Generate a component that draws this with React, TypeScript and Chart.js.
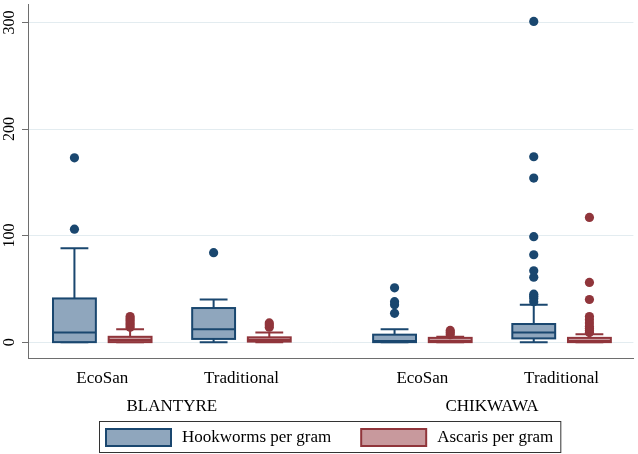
import React, { useEffect, useRef } from 'react';
import { Chart, registerables } from 'chart.js';

Chart.register(...registerables);

// ---------------- data ----------------
const subCategories = ['EcoSan', 'Traditional', 'EcoSan', 'Traditional'];
const regions = ['BLANTYRE', 'CHIKWAWA'];
const seriesNames = ['Hookworms per gram', 'Ascaris per gram'];
const yTickValues = [0, 100, 200, 300];

// [lower whisker, q1, median, q3, upper whisker]
const hookStats = [
  [0, 0, 9, 41, 88],
  [0, 3, 12, 32, 40],
  [0, 0, 1, 7, 12],
  [0, 3.5, 9, 17, 35],
];
const ascarisStats = [
  [0, 0, 2, 5, 12],
  [0, 0.5, 2, 4.5, 9],
  [0, 0, 1, 4, 5],
  [0, 0, 1, 4, 7.5],
];
const hookOutliers = [
  [106, 173],
  [84],
  [27, 35, 38, 51],
  [38, 41, 43, 45, 61, 67, 82, 99, 154, 174, 301],
];
const ascarisOutliers = [
  [14, 16, 18, 20, 22, 24],
  [14, 16, 18],
  [7, 9, 11],
  [9, 11, 13, 15, 18, 21, 24, 40, 56, 117],
];

// ---------------- layout / style ----------------
const hookSlots = [0, 2.5, 5.75, 8.25];
const ascarisSlots = hookSlots.map((s) => s + 1);
const subCenters = hookSlots.map((s) => s + 0.5);
const regionCenters = [(hookSlots[0] + ascarisSlots[1]) / 2, (hookSlots[2] + ascarisSlots[3]) / 2];
const X_MIN = -0.834;
const X_MAX = 10.04;
const Y_MIN = -14.9;
const Y_MAX = 316.8;
const BOX_HALF = 0.385;
const CAP_HALF = 0.25;

const HOOK_STROKE = '#1a476f';
const HOOK_FILL = '#8fa6bd';
const ASC_STROKE = '#90353b';
const ASC_FILL = '#c8999d';
const FONT_FAMILY = '"Liberation Serif", "Times New Roman", Times, serif';

const boxPlugin = {
  id: 'boxes',
  beforeDatasetsDraw(chart: any) {
    const { ctx } = chart;
    const xs = chart.scales.x;
    const ys = chart.scales.y;
    const py = (v: number) => ys.getPixelForValue(v);
    const drawSeries = (stats: number[][], slots: number[], fill: string, stroke: string) => {
      stats.forEach((s, i) => {
        const [mn, q1, md, q3, mx] = s;
        const c = slots[i];
        const xc = xs.getPixelForValue(c);
        const xl = xs.getPixelForValue(c - BOX_HALF);
        const xr = xs.getPixelForValue(c + BOX_HALF);
        const cl = xs.getPixelForValue(c - CAP_HALF);
        const cr = xs.getPixelForValue(c + CAP_HALF);
        ctx.save();
        ctx.lineWidth = 2;
        ctx.strokeStyle = stroke;
        ctx.beginPath();
        ctx.moveTo(xc, py(q3));
        ctx.lineTo(xc, py(mx));
        ctx.moveTo(cl, py(mx));
        ctx.lineTo(cr, py(mx));
        ctx.moveTo(xc, py(q1));
        ctx.lineTo(xc, py(mn));
        ctx.moveTo(cl, py(mn));
        ctx.lineTo(cr, py(mn));
        ctx.stroke();
        const top = py(q3);
        const bot = py(q1);
        ctx.fillStyle = fill;
        ctx.fillRect(xl, top, xr - xl, bot - top);
        ctx.strokeRect(xl, top, xr - xl, bot - top);
        ctx.beginPath();
        ctx.moveTo(xl, py(md));
        ctx.lineTo(xr, py(md));
        ctx.stroke();
        ctx.restore();
      });
    };
    drawSeries(hookStats, hookSlots, HOOK_FILL, HOOK_STROKE);
    drawSeries(ascarisStats, ascarisSlots, ASC_FILL, ASC_STROKE);
  },
};

const legendPlugin = {
  id: 'framedLegend',
  afterDraw(chart: any) {
    const { ctx } = chart;
    const items = [
      { label: seriesNames[0], fill: HOOK_FILL, stroke: HOOK_STROKE },
      { label: seriesNames[1], fill: ASC_FILL, stroke: ASC_STROKE },
    ];
    ctx.save();
    ctx.font = `17px ${FONT_FAMILY}`;
    const sw = 65;
    const sh = 17;
    const gapText = 11;
    const gapItem = 30;
    const pad = 7;
    const widths = items.map((it) => ctx.measureText(it.label).width);
    const total =
      pad * 2 + items.length * (sw + gapText) + widths.reduce((a, b) => a + b, 0) + gapItem * (items.length - 1);
    const left = Math.round(330 - total / 2);
    const top = 421;
    const bottom = 452;
    ctx.strokeStyle = '#333333';
    ctx.lineWidth = 1;
    ctx.strokeRect(left + 0.5, top + 0.5, total, bottom - top);
    let x = left + pad;
    const midY = (top + bottom) / 2 + 1;
    items.forEach((it, i) => {
      ctx.fillStyle = it.fill;
      ctx.fillRect(x, midY - sh / 2, sw, sh);
      ctx.strokeStyle = it.stroke;
      ctx.lineWidth = 2;
      ctx.strokeRect(x, midY - sh / 2, sw, sh);
      x += sw + gapText;
      ctx.fillStyle = '#000000';
      ctx.textBaseline = 'middle';
      ctx.textAlign = 'left';
      ctx.fillText(it.label, x, midY);
      x += widths[i] + gapItem;
    });
    ctx.restore();
  },
};

const zeroPad = (scale: any) => {
  scale.paddingTop = 0;
  scale.paddingBottom = 0;
  scale.paddingLeft = 0;
  scale.paddingRight = 0;
};

export default function App() {
  const canvasRef = useRef<HTMLCanvasElement | null>(null);

  useEffect(() => {
    document.body.style.margin = '0';
    const canvas = canvasRef.current;
    if (!canvas) return;

    const outlierData = (outs: number[][], slots: number[]) =>
      outs.flatMap((arr, i) => arr.map((v) => ({ x: slots[i], y: v })));

    const chart = new Chart(canvas, {
      type: 'scatter',
      data: {
        datasets: [
          {
            label: seriesNames[0],
            data: outlierData(hookOutliers, hookSlots),
            backgroundColor: HOOK_STROKE,
            borderWidth: 0,
            pointRadius: 4.6,
          },
          {
            label: seriesNames[1],
            data: outlierData(ascarisOutliers, ascarisSlots),
            backgroundColor: ASC_STROKE,
            borderWidth: 0,
            pointRadius: 4.6,
          },
        ],
      },
      options: {
        animation: false,
        responsive: false,
        events: [],
        layout: { padding: { top: 2, right: 1, bottom: 34, left: 0 } },
        plugins: {
          legend: { display: false },
          tooltip: { enabled: false },
        },
        scales: {
          x: {
            type: 'linear',
            position: 'bottom',
            min: X_MIN,
            max: X_MAX,
            weight: 0,
            grid: { display: false, drawTicks: false },
            border: { display: true, color: '#6e6e6e', width: 1 },
            afterBuildTicks: (scale: any) => {
              scale.ticks = subCenters.map((v) => ({ value: v }));
            },
            afterFit: (scale: any) => {
              scale.height = 34;
              zeroPad(scale);
            },
            ticks: {
              autoSkip: false,
              maxRotation: 0,
              minRotation: 0,
              padding: 10,
              color: '#000000',
              font: { family: FONT_FAMILY, size: 17 },
              callback: (_v: any, i: number) => subCategories[i],
            },
          },
          x2: {
            type: 'linear',
            position: 'bottom',
            min: X_MIN,
            max: X_MAX,
            weight: 1,
            grid: { display: false, drawTicks: false },
            border: { display: false },
            afterBuildTicks: (scale: any) => {
              scale.ticks = regionCenters.map((v) => ({ value: v }));
            },
            afterFit: (scale: any) => {
              scale.height = 28;
              zeroPad(scale);
            },
            ticks: {
              autoSkip: false,
              maxRotation: 0,
              minRotation: 0,
              padding: 4,
              color: '#000000',
              font: { family: FONT_FAMILY, size: 17 },
              callback: (_v: any, i: number) => regions[i],
            },
          },
          y: {
            type: 'linear',
            position: 'left',
            min: Y_MIN,
            max: Y_MAX,
            grid: {
              display: true,
              color: '#e3ecf0',
              lineWidth: 1,
              drawTicks: true,
              tickLength: 6,
              tickColor: '#6e6e6e',
            },
            border: { display: true, color: '#6e6e6e', width: 1 },
            afterBuildTicks: (scale: any) => {
              scale.ticks = yTickValues.map((v) => ({ value: v }));
            },
            afterFit: (scale: any) => {
              scale.width = 28;
              zeroPad(scale);
            },
            ticks: {
              minRotation: 90,
              maxRotation: 90,
              crossAlign: 'center',
              padding: 0,
              color: '#000000',
              font: { family: FONT_FAMILY, size: 16 },
              callback: (v: any) => String(v),
            },
          },
        },
      } as any,
      plugins: [boxPlugin, legendPlugin],
    });

    return () => {
      chart.destroy();
    };
  }, []);

  return (
    <div style={{ width: 638, height: 454 }}>
      <canvas ref={canvasRef} width={638} height={454} style={{ display: 'block' }} />
    </div>
  );
}
